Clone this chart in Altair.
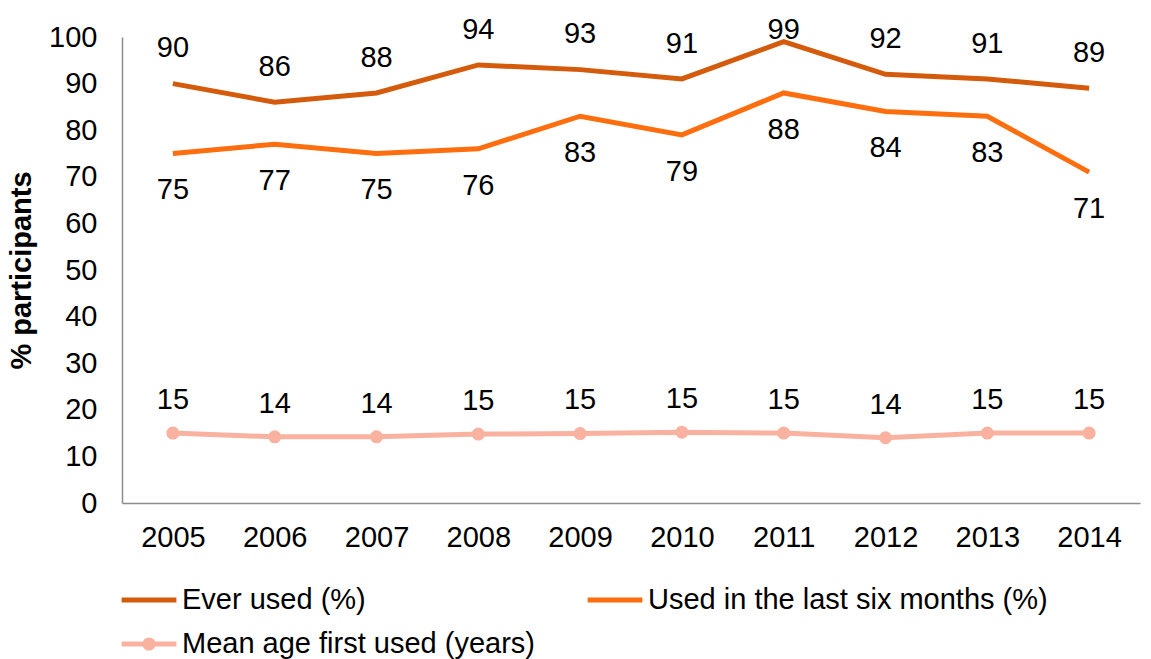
import altair as alt
import pandas as pd

years = ["2005", "2006", "2007", "2008", "2009", "2010", "2011", "2012", "2013", "2014"]
ever_used = [90, 86, 88, 94, 93, 91, 99, 92, 91, 89]
last_six_months = [75, 77, 75, 76, 83, 79, 88, 84, 83, 71]
mean_age = [15.0, 14.2, 14.2, 14.8, 14.9, 15.2, 15.0, 14.0, 15.0, 15.0]
mean_age_labels = ["15", "14", "14", "15", "15", "15", "15", "14", "15", "15"]
series_names = ["Ever used (%)", "Used in the last six months (%)", "Mean age first used (years)"]
series_colors = ["#D45A0C", "#FF6E0E", "#F9B2A0"]
y_ticks = [0, 10, 20, 30, 40, 50, 60, 70, 80, 90, 100]

rows = []
for i, y in enumerate(years):
    rows.append({"year": y, "series": series_names[0], "value": ever_used[i], "label": str(ever_used[i])})
    rows.append({"year": y, "series": series_names[1], "value": last_six_months[i], "label": str(last_six_months[i])})
    rows.append({"year": y, "series": series_names[2], "value": mean_age[i], "label": mean_age_labels[i]})
df = pd.DataFrame(rows)

FONT = "Liberation Sans"
FS = 29

x_enc = alt.X("year:N", sort=years, scale=alt.Scale(type="point", padding=0.5),
              axis=alt.Axis(title=None, labelAngle=0, ticks=False, labelPadding=20,
                            labelFontSize=FS, labelFont=FONT, labelColor="#000000",
                            domainColor="#8C8C8C", domainWidth=1.5))
y_scale = alt.Scale(domain=[0, 100], nice=False)
y_enc = alt.Y("value:Q", scale=y_scale,
              axis=alt.Axis(title="% participants", values=y_ticks, grid=False, ticks=False,
                            labelPadding=25, labelFontSize=FS, labelFont=FONT, labelColor="#000000",
                            titleFontSize=FS, titleFont=FONT, titleFontWeight="bold",
                            titleColor="#000000", titlePadding=12,
                            domainColor="#8C8C8C", domainWidth=1.5))

base = alt.Chart(df)

legend_a = alt.Legend(title=None, orient="none", legendX=-3, legendY=533, direction="horizontal",
                      columns=2, symbolType="stroke", symbolSize=3000, symbolStrokeWidth=5,
                      labelFontSize=FS, labelFont=FONT, labelColor="#000000", labelLimit=800,
                      columnPadding=211, labelOffset=3, padding=0)

circle_line = ("M-1,0H1"
               "M-0.06,0A0.06,0.06,0,1,1,0.06,0A0.06,0.06,0,1,1,-0.06,0"
               "M-0.15,0A0.15,0.15,0,1,1,0.15,0A0.15,0.15,0,1,1,-0.15,0")
legend_b = alt.Legend(title=None, orient="none", legendX=-3, legendY=577, direction="vertical",
                      symbolType=circle_line, symbolSize=3000, symbolStrokeWidth=5,
                      labelFontSize=FS, labelFont=FONT, labelColor="#000000", labelLimit=800,
                      labelOffset=3, padding=0)

lines_main = base.transform_filter(alt.datum.series != series_names[2]).mark_line(strokeWidth=5).encode(
    x=x_enc, y=y_enc,
    color=alt.Color("series:N", sort=series_names[:2],
                    scale=alt.Scale(domain=series_names[:2], range=series_colors[:2]),
                    legend=legend_a),
)

line_age = base.transform_filter(alt.datum.series == series_names[2]).mark_line(strokeWidth=5).encode(
    x=x_enc, y=y_enc,
    stroke=alt.Stroke("series:N", scale=alt.Scale(domain=series_names[2:], range=series_colors[2:]),
                      legend=legend_b),
)

points = base.transform_filter(alt.datum.series == series_names[2]).mark_circle(
    size=170, opacity=1, color=series_colors[2]).encode(x=x_enc, y=y_enc)

def labels(name, expr):
    return base.transform_filter(alt.datum.series == name).transform_calculate(
        label_y=expr).mark_text(fontSize=FS, font=FONT, color="#000000", baseline="middle").encode(
        x=x_enc, y=alt.Y("label_y:Q", scale=y_scale), text="label:N")

chart = alt.layer(
    lines_main, line_age, points,
    labels(series_names[0], "min(datum.value + 7.6, 101.6)"),
    labels(series_names[1], "datum.value - 7.9"),
    labels(series_names[2], "datum.value + 7.1"),
).properties(
    width=1018, height=466,
    autosize=alt.AutoSizeParams(type="none"),
    padding={"left": 122, "top": 37, "right": 11, "bottom": 156},
).resolve_scale(color="independent").configure_view(stroke=None)

chart.save("out.html", embed_options={"renderer": "svg", "actions": False})
